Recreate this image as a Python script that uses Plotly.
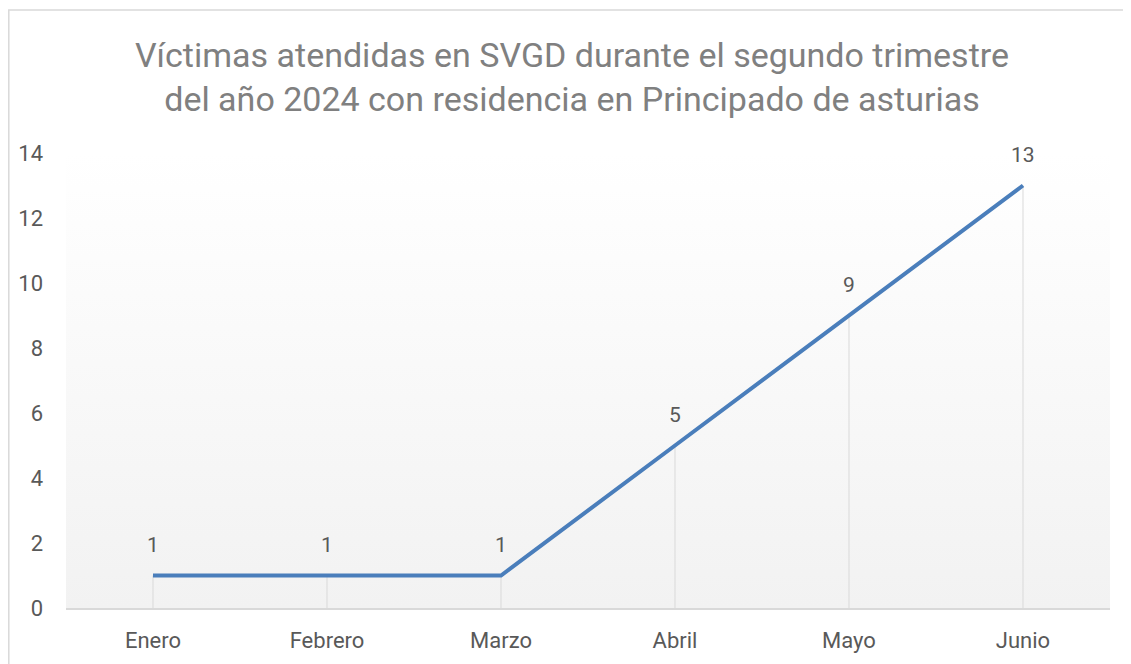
import base64
import plotly.graph_objects as go

months = ["Enero", "Febrero", "Marzo", "Abril", "Mayo", "Junio"]
victims = [1, 1, 1, 5, 9, 13]
y_ticks = [0, 2, 4, 6, 8, 10, 12, 14]
title_lines = ["Víctimas atendidas en SVGD durante el segundo trimestre",
               "del año 2024 con residencia en Principado de asturias"]

FONT = "Roboto"
LINE_COLOR = "#4a7ebb"

fig = go.Figure()

# drop lines from each point down to the axis
drop_x, drop_y = [], []
for m, v in zip(months, victims):
    drop_x += [m, m, None]
    drop_y += [0, v, None]
fig.add_trace(go.Scatter(x=drop_x, y=drop_y, mode="lines",
                         line=dict(color="#d9d9d9", width=1),
                         hoverinfo="skip", showlegend=False))

fig.add_trace(go.Scatter(x=months, y=victims, mode="lines",
                         line=dict(color=LINE_COLOR, width=4),
                         showlegend=False, cliponaxis=False))

for m, v in zip(months, victims):
    fig.add_annotation(x=m, y=v, text=str(v), showarrow=False, yshift=31,
                       font=dict(family=FONT, size=21, color="#595959"))

svg = ('<svg xmlns="http://www.w3.org/2000/svg" width="100" height="100" preserveAspectRatio="none">'
       '<defs><linearGradient id="g" x1="0" y1="0" x2="0" y2="1">'
       '<stop offset="0" stop-color="#ffffff"/><stop offset="1" stop-color="#f2f2f2"/>'
       '</linearGradient></defs><rect width="100" height="100" fill="url(#g)"/></svg>')
src = "data:image/svg+xml;base64," + base64.b64encode(svg.encode()).decode()

W, H = 1123, 656
L, R, T, B = 58, 21, 145, 56
PW, PH = W - L - R, H - T - B

fig.update_layout(
    width=W, height=H,
    margin=dict(l=L, r=R, t=T, b=B, autoexpand=False),
    paper_bgcolor="white", plot_bgcolor="rgba(0,0,0,0)",
    title=dict(text="<br>".join(title_lines), x=564 / W, xanchor="center",
               xref="container", yref="container",
               y=1 - 59 / H, yanchor="middle",
               font=dict(family=FONT, size=34, color="#808080")),
    images=[dict(source=src, xref="paper", yref="paper", x=0, y=1,
                 sizex=1, sizey=1, sizing="stretch", xanchor="left",
                 yanchor="top", layer="below")],
    shapes=[dict(type="rect", xref="paper", yref="paper",
                 x0=(-L + 0.8) / PW, x1=2, y0=-0.5, y1=(H - 2 - B) / PH,
                 line=dict(color="#d9d9d9", width=1.5))],
    xaxis=dict(type="category", range=[-0.5, 5.5], showgrid=False, zeroline=False,
               showline=True, linecolor="#d9d9d9", linewidth=1.5,
               ticks="", ticklabelstandoff=12, automargin=False,
               tickfont=dict(family=FONT, size=22, color="#595959")),
    yaxis=dict(range=[0, 14], tickvals=y_ticks, showgrid=False,
               zeroline=False, showline=False, ticks="",
               ticklabelstandoff=22, automargin=False,
               tickfont=dict(family=FONT, size=22, color="#595959")),
)

fig.write_html("out.html")
